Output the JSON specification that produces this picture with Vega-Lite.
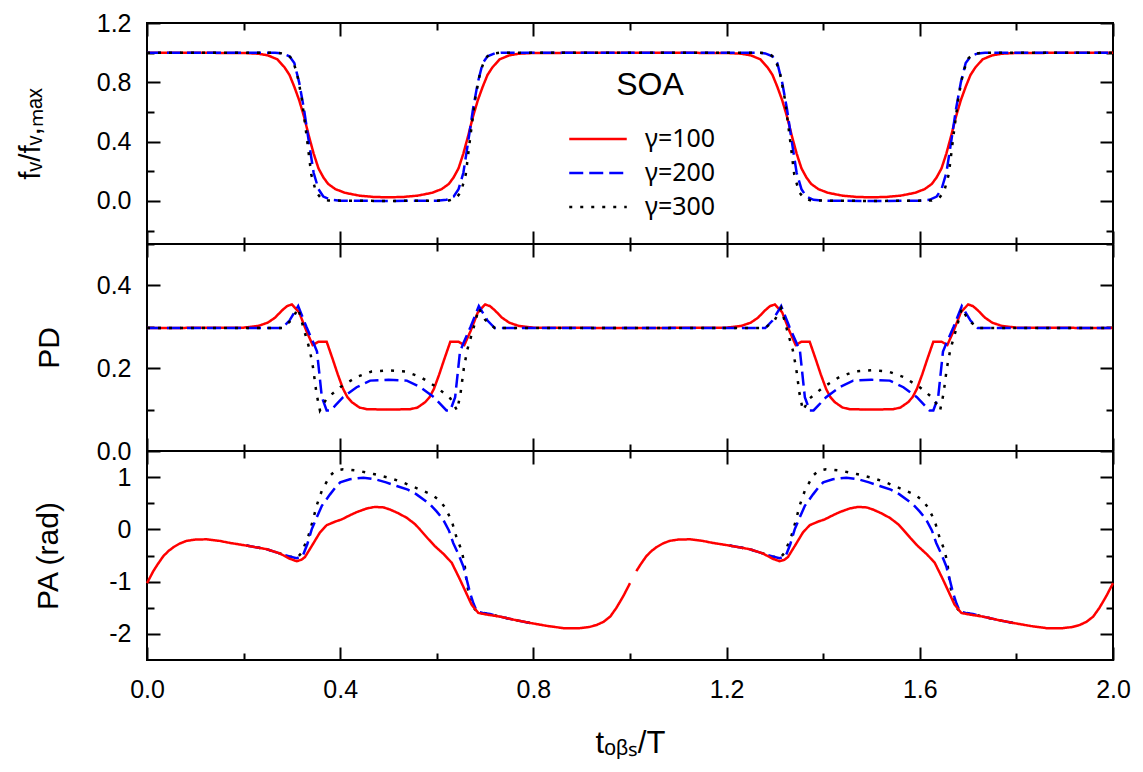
{
"$schema": "https://vega.github.io/schema/vega-lite/v6.json",
"padding": {"left": 14, "top": 10, "right": 30, "bottom": 5},
"background": "white",
"bounds": "flush",
"spacing": 0,
"config": {
  "view": {"stroke": "black", "strokeWidth": 2},
  "font": "Liberation Sans",
  "point": {"opacity": 0},
  "axis": {"labelFont": "Liberation Sans", "labelFontSize": 25, "labelColor": "black", "titleFont": "Liberation Sans", "titleFontSize": 30, "titleFontWeight": "normal", "titleColor": "black", "domain": false, "grid": false, "ticks": true, "tickColor": "black", "tickWidth": 2, "tickSize": -13, "labelFlush": false, "labelOverlap": false}
},
"resolve": {"scale": {"color": "independent", "strokeDash": "independent"}},
"datasets": {
"F": [
{"t":0,"v":1,"g":"γ=100"},{"t":0.2,"v":0.998,"g":"γ=100"},{"t":0.23,"v":0.993,"g":"γ=100"},{"t":0.25,"v":0.982,"g":"γ=100"},{"t":0.27,"v":0.955,"g":"γ=100"},{"t":0.285,"v":0.9,"g":"γ=100"},{"t":0.295,"v":0.85,"g":"γ=100"},{"t":0.305,"v":0.77,"g":"γ=100"},{"t":0.315,"v":0.68,"g":"γ=100"},{"t":0.325,"v":0.57,"g":"γ=100"},{"t":0.335,"v":0.44,"g":"γ=100"},{"t":0.345,"v":0.32,"g":"γ=100"},{"t":0.355,"v":0.22,"g":"γ=100"},{"t":0.365,"v":0.16,"g":"γ=100"},{"t":0.375,"v":0.115,"g":"γ=100"},{"t":0.39,"v":0.08,"g":"γ=100"},{"t":0.41,"v":0.055,"g":"γ=100"},{"t":0.44,"v":0.036,"g":"γ=100"},{"t":0.47,"v":0.027,"g":"γ=100"},{"t":0.5,"v":0.025,"g":"γ=100"},{"t":0.53,"v":0.027,"g":"γ=100"},{"t":0.56,"v":0.036,"g":"γ=100"},{"t":0.59,"v":0.055,"g":"γ=100"},{"t":0.61,"v":0.08,"g":"γ=100"},{"t":0.625,"v":0.115,"g":"γ=100"},{"t":0.635,"v":0.16,"g":"γ=100"},{"t":0.645,"v":0.22,"g":"γ=100"},{"t":0.655,"v":0.32,"g":"γ=100"},{"t":0.665,"v":0.44,"g":"γ=100"},{"t":0.675,"v":0.57,"g":"γ=100"},{"t":0.685,"v":0.68,"g":"γ=100"},{"t":0.695,"v":0.77,"g":"γ=100"},{"t":0.705,"v":0.85,"g":"γ=100"},{"t":0.715,"v":0.9,"g":"γ=100"},{"t":0.73,"v":0.955,"g":"γ=100"},{"t":0.75,"v":0.982,"g":"γ=100"},{"t":0.77,"v":0.993,"g":"γ=100"},{"t":0.8,"v":0.998,"g":"γ=100"},
{"t":1,"v":1,"g":"γ=100"},{"t":1.2,"v":0.998,"g":"γ=100"},{"t":1.23,"v":0.993,"g":"γ=100"},{"t":1.25,"v":0.982,"g":"γ=100"},{"t":1.27,"v":0.955,"g":"γ=100"},{"t":1.285,"v":0.9,"g":"γ=100"},{"t":1.295,"v":0.85,"g":"γ=100"},{"t":1.305,"v":0.77,"g":"γ=100"},{"t":1.315,"v":0.68,"g":"γ=100"},{"t":1.325,"v":0.57,"g":"γ=100"},{"t":1.335,"v":0.44,"g":"γ=100"},{"t":1.345,"v":0.32,"g":"γ=100"},{"t":1.355,"v":0.22,"g":"γ=100"},{"t":1.365,"v":0.16,"g":"γ=100"},{"t":1.375,"v":0.115,"g":"γ=100"},{"t":1.39,"v":0.08,"g":"γ=100"},{"t":1.41,"v":0.055,"g":"γ=100"},{"t":1.44,"v":0.036,"g":"γ=100"},{"t":1.47,"v":0.027,"g":"γ=100"},{"t":1.5,"v":0.025,"g":"γ=100"},{"t":1.53,"v":0.027,"g":"γ=100"},{"t":1.56,"v":0.036,"g":"γ=100"},{"t":1.59,"v":0.055,"g":"γ=100"},{"t":1.61,"v":0.08,"g":"γ=100"},{"t":1.625,"v":0.115,"g":"γ=100"},{"t":1.635,"v":0.16,"g":"γ=100"},{"t":1.645,"v":0.22,"g":"γ=100"},{"t":1.655,"v":0.32,"g":"γ=100"},{"t":1.665,"v":0.44,"g":"γ=100"},{"t":1.675,"v":0.57,"g":"γ=100"},{"t":1.685,"v":0.68,"g":"γ=100"},{"t":1.695,"v":0.77,"g":"γ=100"},{"t":1.705,"v":0.85,"g":"γ=100"},{"t":1.715,"v":0.9,"g":"γ=100"},{"t":1.73,"v":0.955,"g":"γ=100"},{"t":1.75,"v":0.982,"g":"γ=100"},{"t":1.77,"v":0.993,"g":"γ=100"},{"t":1.8,"v":0.998,"g":"γ=100"},{"t":2,"v":1,"g":"γ=100"},
{"t":0,"v":1,"g":"γ=200"},{"t":0.265,"v":1,"g":"γ=200"},{"t":0.28,"v":0.995,"g":"γ=200"},{"t":0.295,"v":0.975,"g":"γ=200"},{"t":0.305,"v":0.93,"g":"γ=200"},{"t":0.315,"v":0.8,"g":"γ=200"},{"t":0.325,"v":0.62,"g":"γ=200"},{"t":0.335,"v":0.4,"g":"γ=200"},{"t":0.345,"v":0.19,"g":"γ=200"},{"t":0.355,"v":0.08,"g":"γ=200"},{"t":0.365,"v":0.03,"g":"γ=200"},{"t":0.38,"v":0.008,"g":"γ=200"},{"t":0.4,"v":0.002,"g":"γ=200"},{"t":0.5,"v":0,"g":"γ=200"},{"t":0.6,"v":0.002,"g":"γ=200"},{"t":0.62,"v":0.008,"g":"γ=200"},{"t":0.635,"v":0.03,"g":"γ=200"},{"t":0.645,"v":0.08,"g":"γ=200"},{"t":0.655,"v":0.19,"g":"γ=200"},{"t":0.665,"v":0.4,"g":"γ=200"},{"t":0.675,"v":0.62,"g":"γ=200"},{"t":0.685,"v":0.8,"g":"γ=200"},{"t":0.695,"v":0.93,"g":"γ=200"},{"t":0.705,"v":0.975,"g":"γ=200"},{"t":0.72,"v":0.995,"g":"γ=200"},{"t":0.735,"v":1,"g":"γ=200"},
{"t":1,"v":1,"g":"γ=200"},{"t":1.265,"v":1,"g":"γ=200"},{"t":1.28,"v":0.995,"g":"γ=200"},{"t":1.295,"v":0.975,"g":"γ=200"},{"t":1.305,"v":0.93,"g":"γ=200"},{"t":1.315,"v":0.8,"g":"γ=200"},{"t":1.325,"v":0.62,"g":"γ=200"},{"t":1.335,"v":0.4,"g":"γ=200"},{"t":1.345,"v":0.19,"g":"γ=200"},{"t":1.355,"v":0.08,"g":"γ=200"},{"t":1.365,"v":0.03,"g":"γ=200"},{"t":1.38,"v":0.008,"g":"γ=200"},{"t":1.4,"v":0.002,"g":"γ=200"},{"t":1.5,"v":0,"g":"γ=200"},{"t":1.6,"v":0.002,"g":"γ=200"},{"t":1.62,"v":0.008,"g":"γ=200"},{"t":1.635,"v":0.03,"g":"γ=200"},{"t":1.645,"v":0.08,"g":"γ=200"},{"t":1.655,"v":0.19,"g":"γ=200"},{"t":1.665,"v":0.4,"g":"γ=200"},{"t":1.675,"v":0.62,"g":"γ=200"},{"t":1.685,"v":0.8,"g":"γ=200"},{"t":1.695,"v":0.93,"g":"γ=200"},{"t":1.705,"v":0.975,"g":"γ=200"},{"t":1.72,"v":0.995,"g":"γ=200"},{"t":1.735,"v":1,"g":"γ=200"},{"t":2,"v":1,"g":"γ=200"},
{"t":0,"v":1,"g":"γ=300"},{"t":0.27,"v":1,"g":"γ=300"},{"t":0.29,"v":0.99,"g":"γ=300"},{"t":0.3,"v":0.96,"g":"γ=300"},{"t":0.31,"v":0.87,"g":"γ=300"},{"t":0.32,"v":0.7,"g":"γ=300"},{"t":0.33,"v":0.45,"g":"γ=300"},{"t":0.34,"v":0.18,"g":"γ=300"},{"t":0.35,"v":0.06,"g":"γ=300"},{"t":0.36,"v":0.02,"g":"γ=300"},{"t":0.375,"v":0.003,"g":"γ=300"},{"t":0.5,"v":0,"g":"γ=300"},{"t":0.625,"v":0.003,"g":"γ=300"},{"t":0.64,"v":0.02,"g":"γ=300"},{"t":0.65,"v":0.06,"g":"γ=300"},{"t":0.66,"v":0.18,"g":"γ=300"},{"t":0.67,"v":0.45,"g":"γ=300"},{"t":0.68,"v":0.7,"g":"γ=300"},{"t":0.69,"v":0.87,"g":"γ=300"},{"t":0.7,"v":0.96,"g":"γ=300"},{"t":0.71,"v":0.99,"g":"γ=300"},{"t":0.73,"v":1,"g":"γ=300"},
{"t":1,"v":1,"g":"γ=300"},{"t":1.27,"v":1,"g":"γ=300"},{"t":1.29,"v":0.99,"g":"γ=300"},{"t":1.3,"v":0.96,"g":"γ=300"},{"t":1.31,"v":0.87,"g":"γ=300"},{"t":1.32,"v":0.7,"g":"γ=300"},{"t":1.33,"v":0.45,"g":"γ=300"},{"t":1.34,"v":0.18,"g":"γ=300"},{"t":1.35,"v":0.06,"g":"γ=300"},{"t":1.36,"v":0.02,"g":"γ=300"},{"t":1.375,"v":0.003,"g":"γ=300"},{"t":1.5,"v":0,"g":"γ=300"},{"t":1.625,"v":0.003,"g":"γ=300"},{"t":1.64,"v":0.02,"g":"γ=300"},{"t":1.65,"v":0.06,"g":"γ=300"},{"t":1.66,"v":0.18,"g":"γ=300"},{"t":1.67,"v":0.45,"g":"γ=300"},{"t":1.68,"v":0.7,"g":"γ=300"},{"t":1.69,"v":0.87,"g":"γ=300"},{"t":1.7,"v":0.96,"g":"γ=300"},{"t":1.71,"v":0.99,"g":"γ=300"},{"t":1.73,"v":1,"g":"γ=300"},{"t":2,"v":1,"g":"γ=300"}
],
"PD": [
{"t":0,"v":0.297,"g":"γ=100"},{"t":0.2,"v":0.298,"g":"γ=100"},{"t":0.23,"v":0.302,"g":"γ=100"},{"t":0.25,"v":0.31,"g":"γ=100"},{"t":0.265,"v":0.322,"g":"γ=100"},{"t":0.28,"v":0.34,"g":"γ=100"},{"t":0.29,"v":0.35,"g":"γ=100"},{"t":0.3,"v":0.354,"g":"γ=100"},{"t":0.315,"v":0.335,"g":"γ=100"},{"t":0.33,"v":0.29,"g":"γ=100"},{"t":0.343,"v":0.256,"g":"γ=100"},{"t":0.355,"v":0.264,"g":"γ=100"},{"t":0.372,"v":0.264,"g":"γ=100"},{"t":0.385,"v":0.22,"g":"γ=100"},{"t":0.395,"v":0.185,"g":"γ=100"},{"t":0.406,"v":0.15,"g":"γ=100"},{"t":0.415,"v":0.13,"g":"γ=100"},{"t":0.424,"v":0.118,"g":"γ=100"},{"t":0.44,"v":0.105,"g":"γ=100"},{"t":0.455,"v":0.101,"g":"γ=100"},{"t":0.5,"v":0.1,"g":"γ=100"},{"t":0.545,"v":0.101,"g":"γ=100"},{"t":0.56,"v":0.105,"g":"γ=100"},{"t":0.576,"v":0.118,"g":"γ=100"},{"t":0.585,"v":0.13,"g":"γ=100"},{"t":0.594,"v":0.15,"g":"γ=100"},{"t":0.605,"v":0.185,"g":"γ=100"},{"t":0.615,"v":0.22,"g":"γ=100"},{"t":0.628,"v":0.264,"g":"γ=100"},{"t":0.645,"v":0.264,"g":"γ=100"},{"t":0.657,"v":0.256,"g":"γ=100"},{"t":0.67,"v":0.29,"g":"γ=100"},{"t":0.685,"v":0.335,"g":"γ=100"},{"t":0.7,"v":0.354,"g":"γ=100"},{"t":0.71,"v":0.35,"g":"γ=100"},{"t":0.72,"v":0.34,"g":"γ=100"},{"t":0.735,"v":0.322,"g":"γ=100"},{"t":0.75,"v":0.31,"g":"γ=100"},{"t":0.77,"v":0.302,"g":"γ=100"},{"t":0.8,"v":0.298,"g":"γ=100"},
{"t":1,"v":0.297,"g":"γ=100"},{"t":1.2,"v":0.298,"g":"γ=100"},{"t":1.23,"v":0.302,"g":"γ=100"},{"t":1.25,"v":0.31,"g":"γ=100"},{"t":1.265,"v":0.322,"g":"γ=100"},{"t":1.28,"v":0.34,"g":"γ=100"},{"t":1.29,"v":0.35,"g":"γ=100"},{"t":1.3,"v":0.354,"g":"γ=100"},{"t":1.315,"v":0.335,"g":"γ=100"},{"t":1.33,"v":0.29,"g":"γ=100"},{"t":1.343,"v":0.256,"g":"γ=100"},{"t":1.355,"v":0.264,"g":"γ=100"},{"t":1.372,"v":0.264,"g":"γ=100"},{"t":1.385,"v":0.22,"g":"γ=100"},{"t":1.395,"v":0.185,"g":"γ=100"},{"t":1.406,"v":0.15,"g":"γ=100"},{"t":1.415,"v":0.13,"g":"γ=100"},{"t":1.424,"v":0.118,"g":"γ=100"},{"t":1.44,"v":0.105,"g":"γ=100"},{"t":1.455,"v":0.101,"g":"γ=100"},{"t":1.5,"v":0.1,"g":"γ=100"},{"t":1.545,"v":0.101,"g":"γ=100"},{"t":1.56,"v":0.105,"g":"γ=100"},{"t":1.576,"v":0.118,"g":"γ=100"},{"t":1.585,"v":0.13,"g":"γ=100"},{"t":1.594,"v":0.15,"g":"γ=100"},{"t":1.605,"v":0.185,"g":"γ=100"},{"t":1.615,"v":0.22,"g":"γ=100"},{"t":1.628,"v":0.264,"g":"γ=100"},{"t":1.645,"v":0.264,"g":"γ=100"},{"t":1.657,"v":0.256,"g":"γ=100"},{"t":1.67,"v":0.29,"g":"γ=100"},{"t":1.685,"v":0.335,"g":"γ=100"},{"t":1.7,"v":0.354,"g":"γ=100"},{"t":1.71,"v":0.35,"g":"γ=100"},{"t":1.72,"v":0.34,"g":"γ=100"},{"t":1.735,"v":0.322,"g":"γ=100"},{"t":1.75,"v":0.31,"g":"γ=100"},{"t":1.77,"v":0.302,"g":"γ=100"},{"t":1.8,"v":0.298,"g":"γ=100"},{"t":2,"v":0.297,"g":"γ=100"},
{"t":0,"v":0.297,"g":"γ=200"},{"t":0.28,"v":0.297,"g":"γ=200"},{"t":0.295,"v":0.315,"g":"γ=200"},{"t":0.313,"v":0.35,"g":"γ=200"},{"t":0.33,"v":0.3,"g":"γ=200"},{"t":0.345,"v":0.26,"g":"γ=200"},{"t":0.352,"v":0.24,"g":"γ=200"},{"t":0.362,"v":0.13,"g":"γ=200"},{"t":0.372,"v":0.098,"g":"γ=200"},{"t":0.38,"v":0.098,"g":"γ=200"},{"t":0.39,"v":0.11,"g":"γ=200"},{"t":0.406,"v":0.13,"g":"γ=200"},{"t":0.434,"v":0.154,"g":"γ=200"},{"t":0.462,"v":0.17,"g":"γ=200"},{"t":0.5,"v":0.172,"g":"γ=200"},{"t":0.538,"v":0.17,"g":"γ=200"},{"t":0.566,"v":0.154,"g":"γ=200"},{"t":0.594,"v":0.13,"g":"γ=200"},{"t":0.61,"v":0.11,"g":"γ=200"},{"t":0.62,"v":0.098,"g":"γ=200"},{"t":0.628,"v":0.098,"g":"γ=200"},{"t":0.638,"v":0.13,"g":"γ=200"},{"t":0.648,"v":0.24,"g":"γ=200"},{"t":0.655,"v":0.26,"g":"γ=200"},{"t":0.67,"v":0.3,"g":"γ=200"},{"t":0.687,"v":0.35,"g":"γ=200"},{"t":0.705,"v":0.315,"g":"γ=200"},{"t":0.72,"v":0.297,"g":"γ=200"},
{"t":1,"v":0.297,"g":"γ=200"},{"t":1.28,"v":0.297,"g":"γ=200"},{"t":1.295,"v":0.315,"g":"γ=200"},{"t":1.313,"v":0.35,"g":"γ=200"},{"t":1.33,"v":0.3,"g":"γ=200"},{"t":1.345,"v":0.26,"g":"γ=200"},{"t":1.352,"v":0.24,"g":"γ=200"},{"t":1.362,"v":0.13,"g":"γ=200"},{"t":1.372,"v":0.098,"g":"γ=200"},{"t":1.38,"v":0.098,"g":"γ=200"},{"t":1.39,"v":0.11,"g":"γ=200"},{"t":1.406,"v":0.13,"g":"γ=200"},{"t":1.434,"v":0.154,"g":"γ=200"},{"t":1.462,"v":0.17,"g":"γ=200"},{"t":1.5,"v":0.172,"g":"γ=200"},{"t":1.538,"v":0.17,"g":"γ=200"},{"t":1.566,"v":0.154,"g":"γ=200"},{"t":1.594,"v":0.13,"g":"γ=200"},{"t":1.61,"v":0.11,"g":"γ=200"},{"t":1.62,"v":0.098,"g":"γ=200"},{"t":1.628,"v":0.098,"g":"γ=200"},{"t":1.638,"v":0.13,"g":"γ=200"},{"t":1.648,"v":0.24,"g":"γ=200"},{"t":1.655,"v":0.26,"g":"γ=200"},{"t":1.67,"v":0.3,"g":"γ=200"},{"t":1.687,"v":0.35,"g":"γ=200"},{"t":1.705,"v":0.315,"g":"γ=200"},{"t":1.72,"v":0.297,"g":"γ=200"},{"t":2,"v":0.297,"g":"γ=200"},
{"t":0,"v":0.297,"g":"γ=300"},{"t":0.28,"v":0.297,"g":"γ=300"},{"t":0.3,"v":0.317,"g":"γ=300"},{"t":0.313,"v":0.345,"g":"γ=300"},{"t":0.324,"v":0.297,"g":"γ=300"},{"t":0.337,"v":0.244,"g":"γ=300"},{"t":0.344,"v":0.2,"g":"γ=300"},{"t":0.351,"v":0.138,"g":"γ=300"},{"t":0.358,"v":0.098,"g":"γ=300"},{"t":0.372,"v":0.127,"g":"γ=300"},{"t":0.4,"v":0.154,"g":"γ=300"},{"t":0.434,"v":0.179,"g":"γ=300"},{"t":0.465,"v":0.192,"g":"γ=300"},{"t":0.5,"v":0.195,"g":"γ=300"},{"t":0.535,"v":0.192,"g":"γ=300"},{"t":0.566,"v":0.179,"g":"γ=300"},{"t":0.6,"v":0.154,"g":"γ=300"},{"t":0.628,"v":0.127,"g":"γ=300"},{"t":0.642,"v":0.098,"g":"γ=300"},{"t":0.649,"v":0.138,"g":"γ=300"},{"t":0.656,"v":0.2,"g":"γ=300"},{"t":0.663,"v":0.244,"g":"γ=300"},{"t":0.676,"v":0.297,"g":"γ=300"},{"t":0.687,"v":0.345,"g":"γ=300"},{"t":0.7,"v":0.317,"g":"γ=300"},{"t":0.72,"v":0.297,"g":"γ=300"},
{"t":1,"v":0.297,"g":"γ=300"},{"t":1.28,"v":0.297,"g":"γ=300"},{"t":1.3,"v":0.317,"g":"γ=300"},{"t":1.313,"v":0.345,"g":"γ=300"},{"t":1.324,"v":0.297,"g":"γ=300"},{"t":1.337,"v":0.244,"g":"γ=300"},{"t":1.344,"v":0.2,"g":"γ=300"},{"t":1.351,"v":0.138,"g":"γ=300"},{"t":1.358,"v":0.098,"g":"γ=300"},{"t":1.372,"v":0.127,"g":"γ=300"},{"t":1.4,"v":0.154,"g":"γ=300"},{"t":1.434,"v":0.179,"g":"γ=300"},{"t":1.465,"v":0.192,"g":"γ=300"},{"t":1.5,"v":0.195,"g":"γ=300"},{"t":1.535,"v":0.192,"g":"γ=300"},{"t":1.566,"v":0.179,"g":"γ=300"},{"t":1.6,"v":0.154,"g":"γ=300"},{"t":1.628,"v":0.127,"g":"γ=300"},{"t":1.642,"v":0.098,"g":"γ=300"},{"t":1.649,"v":0.138,"g":"γ=300"},{"t":1.656,"v":0.2,"g":"γ=300"},{"t":1.663,"v":0.244,"g":"γ=300"},{"t":1.676,"v":0.297,"g":"γ=300"},{"t":1.687,"v":0.345,"g":"γ=300"},{"t":1.7,"v":0.317,"g":"γ=300"},{"t":1.72,"v":0.297,"g":"γ=300"},{"t":2,"v":0.297,"g":"γ=300"}
],
"PA": [
{"t":0.206,"v":-0.31,"g":"γ=300","p":1},{"t":0.248,"v":-0.38,"g":"γ=300","p":1},{"t":0.275,"v":-0.46,"g":"γ=300","p":1},{"t":0.295,"v":-0.52,"g":"γ=300","p":1},{"t":0.31,"v":-0.55,"g":"γ=300","p":1},{"t":0.32,"v":-0.45,"g":"γ=300","p":1},{"t":0.334,"v":-0.13,"g":"γ=300","p":1},{"t":0.344,"v":0.19,"g":"γ=300","p":1},{"t":0.351,"v":0.45,"g":"γ=300","p":1},{"t":0.362,"v":0.74,"g":"γ=300","p":1},{"t":0.379,"v":1.03,"g":"γ=300","p":1},{"t":0.39,"v":1.12,"g":"γ=300","p":1},{"t":0.406,"v":1.15,"g":"γ=300","p":1},{"t":0.42,"v":1.14,"g":"γ=300","p":1},{"t":0.438,"v":1.12,"g":"γ=300","p":1},{"t":0.469,"v":1.06,"g":"γ=300","p":1},{"t":0.5,"v":0.99,"g":"γ=300","p":1},{"t":0.527,"v":0.91,"g":"γ=300","p":1},{"t":0.558,"v":0.79,"g":"γ=300","p":1},{"t":0.589,"v":0.67,"g":"γ=300","p":1},{"t":0.605,"v":0.56,"g":"γ=300","p":1},{"t":0.617,"v":0.42,"g":"γ=300","p":1},{"t":0.631,"v":0.16,"g":"γ=300","p":1},{"t":0.641,"v":-0.16,"g":"γ=300","p":1},{"t":0.652,"v":-0.42,"g":"γ=300","p":1},{"t":0.658,"v":-0.71,"g":"γ=300","p":1},{"t":0.662,"v":-1.03,"g":"γ=300","p":1},{"t":0.669,"v":-1.35,"g":"γ=300","p":1},{"t":0.676,"v":-1.5,"g":"γ=300","p":1},{"t":0.683,"v":-1.57,"g":"γ=300","p":1},{"t":0.695,"v":-1.6,"g":"γ=300","p":1},{"t":0.71,"v":-1.62,"g":"γ=300","p":1},{"t":0.731,"v":-1.67,"g":"γ=300","p":1},{"t":0.76,"v":-1.73,"g":"γ=300","p":1},{"t":0.793,"v":-1.79,"g":"γ=300","p":1},
{"t":1.206,"v":-0.31,"g":"γ=300","p":2},{"t":1.248,"v":-0.38,"g":"γ=300","p":2},{"t":1.275,"v":-0.46,"g":"γ=300","p":2},{"t":1.295,"v":-0.52,"g":"γ=300","p":2},{"t":1.31,"v":-0.55,"g":"γ=300","p":2},{"t":1.32,"v":-0.45,"g":"γ=300","p":2},{"t":1.334,"v":-0.13,"g":"γ=300","p":2},{"t":1.344,"v":0.19,"g":"γ=300","p":2},{"t":1.351,"v":0.45,"g":"γ=300","p":2},{"t":1.362,"v":0.74,"g":"γ=300","p":2},{"t":1.379,"v":1.03,"g":"γ=300","p":2},{"t":1.39,"v":1.12,"g":"γ=300","p":2},{"t":1.406,"v":1.15,"g":"γ=300","p":2},{"t":1.42,"v":1.14,"g":"γ=300","p":2},{"t":1.438,"v":1.12,"g":"γ=300","p":2},{"t":1.469,"v":1.06,"g":"γ=300","p":2},{"t":1.5,"v":0.99,"g":"γ=300","p":2},{"t":1.527,"v":0.91,"g":"γ=300","p":2},{"t":1.558,"v":0.79,"g":"γ=300","p":2},{"t":1.589,"v":0.67,"g":"γ=300","p":2},{"t":1.605,"v":0.56,"g":"γ=300","p":2},{"t":1.617,"v":0.42,"g":"γ=300","p":2},{"t":1.631,"v":0.16,"g":"γ=300","p":2},{"t":1.641,"v":-0.16,"g":"γ=300","p":2},{"t":1.652,"v":-0.42,"g":"γ=300","p":2},{"t":1.658,"v":-0.71,"g":"γ=300","p":2},{"t":1.662,"v":-1.03,"g":"γ=300","p":2},{"t":1.669,"v":-1.35,"g":"γ=300","p":2},{"t":1.676,"v":-1.5,"g":"γ=300","p":2},{"t":1.683,"v":-1.57,"g":"γ=300","p":2},{"t":1.695,"v":-1.6,"g":"γ=300","p":2},{"t":1.71,"v":-1.62,"g":"γ=300","p":2},{"t":1.731,"v":-1.67,"g":"γ=300","p":2},{"t":1.76,"v":-1.73,"g":"γ=300","p":2},{"t":1.793,"v":-1.79,"g":"γ=300","p":2},
{"t":0.206,"v":-0.31,"g":"γ=200","p":1},{"t":0.248,"v":-0.38,"g":"γ=200","p":1},{"t":0.275,"v":-0.46,"g":"γ=200","p":1},{"t":0.295,"v":-0.52,"g":"γ=200","p":1},{"t":0.31,"v":-0.55,"g":"γ=200","p":1},{"t":0.322,"v":-0.52,"g":"γ=200","p":1},{"t":0.332,"v":-0.28,"g":"γ=200","p":1},{"t":0.341,"v":0,"g":"γ=200","p":1},{"t":0.352,"v":0.24,"g":"γ=200","p":1},{"t":0.362,"v":0.45,"g":"γ=200","p":1},{"t":0.379,"v":0.67,"g":"γ=200","p":1},{"t":0.39,"v":0.8,"g":"γ=200","p":1},{"t":0.4,"v":0.9,"g":"γ=200","p":1},{"t":0.42,"v":0.96,"g":"γ=200","p":1},{"t":0.448,"v":0.99,"g":"γ=200","p":1},{"t":0.472,"v":0.96,"g":"γ=200","p":1},{"t":0.495,"v":0.9,"g":"γ=200","p":1},{"t":0.517,"v":0.83,"g":"γ=200","p":1},{"t":0.54,"v":0.76,"g":"γ=200","p":1},{"t":0.558,"v":0.67,"g":"γ=200","p":1},{"t":0.586,"v":0.48,"g":"γ=200","p":1},{"t":0.6,"v":0.34,"g":"γ=200","p":1},{"t":0.613,"v":0.19,"g":"γ=200","p":1},{"t":0.625,"v":-0.02,"g":"γ=200","p":1},{"t":0.634,"v":-0.26,"g":"γ=200","p":1},{"t":0.645,"v":-0.48,"g":"γ=200","p":1},{"t":0.655,"v":-0.71,"g":"γ=200","p":1},{"t":0.663,"v":-1,"g":"γ=200","p":1},{"t":0.669,"v":-1.22,"g":"γ=200","p":1},{"t":0.676,"v":-1.42,"g":"γ=200","p":1},{"t":0.683,"v":-1.57,"g":"γ=200","p":1},{"t":0.695,"v":-1.6,"g":"γ=200","p":1},{"t":0.71,"v":-1.62,"g":"γ=200","p":1},{"t":0.731,"v":-1.67,"g":"γ=200","p":1},{"t":0.76,"v":-1.73,"g":"γ=200","p":1},{"t":0.793,"v":-1.79,"g":"γ=200","p":1},
{"t":1.206,"v":-0.31,"g":"γ=200","p":2},{"t":1.248,"v":-0.38,"g":"γ=200","p":2},{"t":1.275,"v":-0.46,"g":"γ=200","p":2},{"t":1.295,"v":-0.52,"g":"γ=200","p":2},{"t":1.31,"v":-0.55,"g":"γ=200","p":2},{"t":1.322,"v":-0.52,"g":"γ=200","p":2},{"t":1.332,"v":-0.28,"g":"γ=200","p":2},{"t":1.341,"v":0,"g":"γ=200","p":2},{"t":1.352,"v":0.24,"g":"γ=200","p":2},{"t":1.362,"v":0.45,"g":"γ=200","p":2},{"t":1.379,"v":0.67,"g":"γ=200","p":2},{"t":1.39,"v":0.8,"g":"γ=200","p":2},{"t":1.4,"v":0.9,"g":"γ=200","p":2},{"t":1.42,"v":0.96,"g":"γ=200","p":2},{"t":1.448,"v":0.99,"g":"γ=200","p":2},{"t":1.472,"v":0.96,"g":"γ=200","p":2},{"t":1.495,"v":0.9,"g":"γ=200","p":2},{"t":1.517,"v":0.83,"g":"γ=200","p":2},{"t":1.54,"v":0.76,"g":"γ=200","p":2},{"t":1.558,"v":0.67,"g":"γ=200","p":2},{"t":1.586,"v":0.48,"g":"γ=200","p":2},{"t":1.6,"v":0.34,"g":"γ=200","p":2},{"t":1.613,"v":0.19,"g":"γ=200","p":2},{"t":1.625,"v":-0.02,"g":"γ=200","p":2},{"t":1.634,"v":-0.26,"g":"γ=200","p":2},{"t":1.645,"v":-0.48,"g":"γ=200","p":2},{"t":1.655,"v":-0.71,"g":"γ=200","p":2},{"t":1.663,"v":-1,"g":"γ=200","p":2},{"t":1.669,"v":-1.22,"g":"γ=200","p":2},{"t":1.676,"v":-1.42,"g":"γ=200","p":2},{"t":1.683,"v":-1.57,"g":"γ=200","p":2},{"t":1.695,"v":-1.6,"g":"γ=200","p":2},{"t":1.71,"v":-1.62,"g":"γ=200","p":2},{"t":1.731,"v":-1.67,"g":"γ=200","p":2},{"t":1.76,"v":-1.73,"g":"γ=200","p":2},{"t":1.793,"v":-1.79,"g":"γ=200","p":2},
{"t":0,"v":-1.03,"g":"γ=100","p":1},{"t":0.013,"v":-0.8,"g":"γ=100","p":1},{"t":0.022,"v":-0.67,"g":"γ=100","p":1},{"t":0.034,"v":-0.51,"g":"γ=100","p":1},{"t":0.045,"v":-0.41,"g":"γ=100","p":1},{"t":0.055,"v":-0.34,"g":"γ=100","p":1},{"t":0.068,"v":-0.27,"g":"γ=100","p":1},{"t":0.082,"v":-0.22,"g":"γ=100","p":1},{"t":0.1,"v":-0.195,"g":"γ=100","p":1},{"t":0.124,"v":-0.19,"g":"γ=100","p":1},{"t":0.15,"v":-0.22,"g":"γ=100","p":1},{"t":0.172,"v":-0.26,"g":"γ=100","p":1},{"t":0.206,"v":-0.31,"g":"γ=100","p":1},{"t":0.248,"v":-0.38,"g":"γ=100","p":1},{"t":0.275,"v":-0.46,"g":"γ=100","p":1},{"t":0.295,"v":-0.56,"g":"γ=100","p":1},{"t":0.31,"v":-0.61,"g":"γ=100","p":1},{"t":0.32,"v":-0.58,"g":"γ=100","p":1},{"t":0.327,"v":-0.53,"g":"γ=100","p":1},{"t":0.341,"v":-0.32,"g":"γ=100","p":1},{"t":0.358,"v":-0.06,"g":"γ=100","p":1},{"t":0.372,"v":0.08,"g":"γ=100","p":1},{"t":0.39,"v":0.15,"g":"γ=100","p":1},{"t":0.403,"v":0.19,"g":"γ=100","p":1},{"t":0.42,"v":0.27,"g":"γ=100","p":1},{"t":0.434,"v":0.33,"g":"γ=100","p":1},{"t":0.455,"v":0.4,"g":"γ=100","p":1},{"t":0.472,"v":0.43,"g":"γ=100","p":1},{"t":0.49,"v":0.42,"g":"γ=100","p":1},{"t":0.503,"v":0.38,"g":"γ=100","p":1},{"t":0.52,"v":0.31,"g":"γ=100","p":1},{"t":0.538,"v":0.22,"g":"γ=100","p":1},{"t":0.555,"v":0.1,"g":"γ=100","p":1},{"t":0.565,"v":0,"g":"γ=100","p":1},{"t":0.58,"v":-0.16,"g":"γ=100","p":1},{"t":0.596,"v":-0.32,"g":"γ=100","p":1},{"t":0.615,"v":-0.48,"g":"γ=100","p":1},{"t":0.631,"v":-0.64,"g":"γ=100","p":1},{"t":0.648,"v":-0.96,"g":"γ=100","p":1},{"t":0.66,"v":-1.2,"g":"γ=100","p":1},{"t":0.672,"v":-1.44,"g":"γ=100","p":1},{"t":0.686,"v":-1.6,"g":"γ=100","p":1},{"t":0.703,"v":-1.63,"g":"γ=100","p":1},{"t":0.731,"v":-1.67,"g":"γ=100","p":1},{"t":0.76,"v":-1.73,"g":"γ=100","p":1},{"t":0.793,"v":-1.79,"g":"γ=100","p":1},{"t":0.83,"v":-1.85,"g":"γ=100","p":1},{"t":0.862,"v":-1.89,"g":"γ=100","p":1},{"t":0.896,"v":-1.89,"g":"γ=100","p":1},{"t":0.915,"v":-1.87,"g":"γ=100","p":1},{"t":0.931,"v":-1.83,"g":"γ=100","p":1},{"t":0.945,"v":-1.77,"g":"γ=100","p":1},{"t":0.959,"v":-1.67,"g":"γ=100","p":1},{"t":0.972,"v":-1.5,"g":"γ=100","p":1},{"t":0.986,"v":-1.28,"g":"γ=100","p":1},{"t":1,"v":-1.03,"g":"γ=100","p":1},
{"t":1.013,"v":-0.8,"g":"γ=100","p":2},{"t":1.022,"v":-0.67,"g":"γ=100","p":2},{"t":1.034,"v":-0.51,"g":"γ=100","p":2},{"t":1.045,"v":-0.41,"g":"γ=100","p":2},{"t":1.055,"v":-0.34,"g":"γ=100","p":2},{"t":1.068,"v":-0.27,"g":"γ=100","p":2},{"t":1.082,"v":-0.22,"g":"γ=100","p":2},{"t":1.1,"v":-0.195,"g":"γ=100","p":2},{"t":1.124,"v":-0.19,"g":"γ=100","p":2},{"t":1.15,"v":-0.22,"g":"γ=100","p":2},{"t":1.172,"v":-0.26,"g":"γ=100","p":2},{"t":1.206,"v":-0.31,"g":"γ=100","p":2},{"t":1.248,"v":-0.38,"g":"γ=100","p":2},{"t":1.275,"v":-0.46,"g":"γ=100","p":2},{"t":1.295,"v":-0.56,"g":"γ=100","p":2},{"t":1.31,"v":-0.61,"g":"γ=100","p":2},{"t":1.32,"v":-0.58,"g":"γ=100","p":2},{"t":1.327,"v":-0.53,"g":"γ=100","p":2},{"t":1.341,"v":-0.32,"g":"γ=100","p":2},{"t":1.358,"v":-0.06,"g":"γ=100","p":2},{"t":1.372,"v":0.08,"g":"γ=100","p":2},{"t":1.39,"v":0.15,"g":"γ=100","p":2},{"t":1.403,"v":0.19,"g":"γ=100","p":2},{"t":1.42,"v":0.27,"g":"γ=100","p":2},{"t":1.434,"v":0.33,"g":"γ=100","p":2},{"t":1.455,"v":0.4,"g":"γ=100","p":2},{"t":1.472,"v":0.43,"g":"γ=100","p":2},{"t":1.49,"v":0.42,"g":"γ=100","p":2},{"t":1.503,"v":0.38,"g":"γ=100","p":2},{"t":1.52,"v":0.31,"g":"γ=100","p":2},{"t":1.538,"v":0.22,"g":"γ=100","p":2},{"t":1.555,"v":0.1,"g":"γ=100","p":2},{"t":1.565,"v":0,"g":"γ=100","p":2},{"t":1.58,"v":-0.16,"g":"γ=100","p":2},{"t":1.596,"v":-0.32,"g":"γ=100","p":2},{"t":1.615,"v":-0.48,"g":"γ=100","p":2},{"t":1.631,"v":-0.64,"g":"γ=100","p":2},{"t":1.648,"v":-0.96,"g":"γ=100","p":2},{"t":1.66,"v":-1.2,"g":"γ=100","p":2},{"t":1.672,"v":-1.44,"g":"γ=100","p":2},{"t":1.686,"v":-1.6,"g":"γ=100","p":2},{"t":1.703,"v":-1.63,"g":"γ=100","p":2},{"t":1.731,"v":-1.67,"g":"γ=100","p":2},{"t":1.76,"v":-1.73,"g":"γ=100","p":2},{"t":1.793,"v":-1.79,"g":"γ=100","p":2},{"t":1.83,"v":-1.85,"g":"γ=100","p":2},{"t":1.862,"v":-1.89,"g":"γ=100","p":2},{"t":1.896,"v":-1.89,"g":"γ=100","p":2},{"t":1.915,"v":-1.87,"g":"γ=100","p":2},{"t":1.931,"v":-1.83,"g":"γ=100","p":2},{"t":1.945,"v":-1.77,"g":"γ=100","p":2},{"t":1.959,"v":-1.67,"g":"γ=100","p":2},{"t":1.972,"v":-1.5,"g":"γ=100","p":2},{"t":1.986,"v":-1.28,"g":"γ=100","p":2},{"t":2,"v":-1.03,"g":"γ=100","p":2}
]
},
"vconcat": [
{
  "width": 966, "height": 221,
  "data": {"name": "F"},
  "layer": [
    {"mark": {"type": "line", "strokeWidth": 2.5},
     "encoding": {
       "x": {"field": "t", "type": "quantitative", "scale": {"domain": [0, 2], "nice": false, "zero": false},
             "axis": {"orient": "bottom", "values": [0,0.4,0.8,1.2,1.6,2], "labels": false, "title": null}},
       "y": {"field": "v", "type": "quantitative", "scale": {"domain": [-0.29, 1.2], "nice": false, "zero": false},
             "axis": {"orient": "left", "values": [0,0.4,0.8,1.2], "format": ".1f", "labelPadding": 29,
                      "title": "fᵥ/fᵥ,ₘₐₓ", "titleX": -108, "titleBaseline": "alphabetic"}},
       "color": {"field": "g", "type": "nominal", "scale": {"domain": ["γ=100","γ=200","γ=300"], "range": ["#ff0000","#0000ff","#000000"]},
                 "legend": {"orient": "none", "legendX": 438, "legendY": 47, "title": "SOA", "titleFontSize": 32, "titleFont": "Liberation Sans", "titleFontWeight": "normal", "titleColor": "black", "titleAnchor": "middle", "titlePadding": 24, "labelFontSize": 25, "labelFont": "Noto Sans", "labelColor": "black", "symbolType": "M-2.5,0H2.5", "symbolSize": 529, "symbolStrokeWidth": 2.5, "labelOffset": 34, "rowPadding": 8}},
       "strokeDash": {"field": "g", "type": "nominal", "scale": {"domain": ["γ=100","γ=200","γ=300"], "range": [[1,0],[14,6],[3,8]]},
                 "legend": {"orient": "none", "legendX": 438, "legendY": 47, "title": "SOA", "titleFontSize": 32, "titleFont": "Liberation Sans", "titleFontWeight": "normal", "titleColor": "black", "titleAnchor": "middle", "titlePadding": 24, "labelFontSize": 25, "labelFont": "Noto Sans", "labelColor": "black", "symbolType": "M-2.5,0H2.5", "symbolSize": 529, "symbolStrokeWidth": 2.5, "labelOffset": 34, "rowPadding": 8}}
     }},
    {"mark": {"type": "point", "opacity": 0},
     "encoding": {
       "x": {"field": "t", "type": "quantitative", "scale": {"domain": [0, 2], "nice": false, "zero": false},
             "axis": {"orient": "top", "values": [0,0.4,0.8,1.2,1.6,2], "labels": false, "title": null}},
       "y": {"field": "v", "type": "quantitative", "scale": {"domain": [-0.29, 1.2], "nice": false, "zero": false},
             "axis": {"orient": "right", "values": [0,0.4,0.8,1.2], "labels": false, "title": null}}
     }},
    {"mark": {"type": "point", "opacity": 0},
     "encoding": {
       "x": {"field": "t", "type": "quantitative", "scale": {"domain": [0, 2], "nice": false, "zero": false},
             "axis": {"orient": "bottom", "values": [0.2,0.6,1,1.4,1.8], "tickSize": -7, "labels": false, "title": null}},
       "y": {"field": "v", "type": "quantitative", "scale": {"domain": [-0.29, 1.2], "nice": false, "zero": false},
             "axis": {"orient": "left", "values": [-0.2,0.2,0.6,1], "tickSize": -7, "labels": false, "title": null}}
     }},
    {"mark": {"type": "point", "opacity": 0},
     "encoding": {
       "x": {"field": "t", "type": "quantitative", "scale": {"domain": [0, 2], "nice": false, "zero": false},
             "axis": {"orient": "top", "values": [0.2,0.6,1,1.4,1.8], "tickSize": -7, "labels": false, "title": null}},
       "y": {"field": "v", "type": "quantitative", "scale": {"domain": [-0.29, 1.2], "nice": false, "zero": false},
             "axis": {"orient": "right", "values": [-0.2,0.2,0.6,1], "tickSize": -7, "labels": false, "title": null}}
     }}
  ],
  "resolve": {"axis": {"x": "independent", "y": "independent"}}
},
{
  "width": 966, "height": 207,
  "data": {"name": "PD"},
  "layer": [
    {"mark": {"type": "line", "strokeWidth": 2.5},
     "encoding": {
       "x": {"field": "t", "type": "quantitative", "scale": {"domain": [0, 2], "nice": false, "zero": false},
             "axis": {"orient": "bottom", "values": [0,0.4,0.8,1.2,1.6,2], "labels": false, "title": null}},
       "y": {"field": "v", "type": "quantitative", "scale": {"domain": [0, 0.5], "nice": false, "zero": false},
             "axis": {"orient": "left", "values": [0,0.2,0.4], "format": ".1f", "labelPadding": 29,
                      "title": "PD", "titleX": -89, "titleBaseline": "alphabetic"}},
       "color": {"field": "g", "type": "nominal", "scale": {"domain": ["γ=100","γ=200","γ=300"], "range": ["#ff0000","#0000ff","#000000"]}, "legend": null},
       "strokeDash": {"field": "g", "type": "nominal", "scale": {"domain": ["γ=100","γ=200","γ=300"], "range": [[1,0],[14,6],[3,8]]}, "legend": null}
     }},
    {"mark": {"type": "point", "opacity": 0},
     "encoding": {
       "x": {"field": "t", "type": "quantitative", "scale": {"domain": [0, 2], "nice": false, "zero": false},
             "axis": {"orient": "top", "values": [0,0.4,0.8,1.2,1.6,2], "labels": false, "title": null}},
       "y": {"field": "v", "type": "quantitative", "scale": {"domain": [0, 0.5], "nice": false, "zero": false},
             "axis": {"orient": "right", "values": [0,0.2,0.4], "labels": false, "title": null}}
     }},
    {"mark": {"type": "point", "opacity": 0},
     "encoding": {
       "x": {"field": "t", "type": "quantitative", "scale": {"domain": [0, 2], "nice": false, "zero": false},
             "axis": {"orient": "bottom", "values": [0.2,0.6,1,1.4,1.8], "tickSize": -7, "labels": false, "title": null}},
       "y": {"field": "v", "type": "quantitative", "scale": {"domain": [0, 0.5], "nice": false, "zero": false},
             "axis": {"orient": "left", "values": [0.1,0.3,0.5], "tickSize": -7, "labels": false, "title": null}}
     }},
    {"mark": {"type": "point", "opacity": 0},
     "encoding": {
       "x": {"field": "t", "type": "quantitative", "scale": {"domain": [0, 2], "nice": false, "zero": false},
             "axis": {"orient": "top", "values": [0.2,0.6,1,1.4,1.8], "tickSize": -7, "labels": false, "title": null}},
       "y": {"field": "v", "type": "quantitative", "scale": {"domain": [0, 0.5], "nice": false, "zero": false},
             "axis": {"orient": "right", "values": [0.1,0.3,0.5], "tickSize": -7, "labels": false, "title": null}}
     }}
  ],
  "resolve": {"axis": {"x": "independent", "y": "independent"}}
},
{
  "width": 966, "height": 209,
  "data": {"name": "PA"},
  "layer": [
    {"mark": {"type": "line", "strokeWidth": 2.5},
     "encoding": {
       "x": {"field": "t", "type": "quantitative", "scale": {"domain": [0, 2], "nice": false, "zero": false},
             "axis": {"orient": "bottom", "values": [0,0.4,0.8,1.2,1.6,2], "format": ".1f", "labelPadding": 30,
                      "title": "tₒᵦₛ/T", "titleFontSize": 31, "titleY": 92, "titleBaseline": "alphabetic"}},
       "y": {"field": "v", "type": "quantitative", "scale": {"domain": [-2.5, 1.5], "nice": false, "zero": false},
             "axis": {"orient": "left", "values": [-2,-1,0,1], "labelExpr": "'' + datum.value", "labelPadding": 29,
                      "title": "PA (rad)", "titleX": -90, "titleBaseline": "alphabetic"}},
       "color": {"field": "g", "type": "nominal", "scale": {"domain": ["γ=100","γ=200","γ=300"], "range": ["#ff0000","#0000ff","#000000"]}, "legend": null},
       "strokeDash": {"field": "g", "type": "nominal", "scale": {"domain": ["γ=100","γ=200","γ=300"], "range": [[1,0],[14,6],[3,8]]}, "legend": null},
       "detail": {"field": "p", "type": "nominal"}
     }},
    {"mark": {"type": "point", "opacity": 0},
     "encoding": {
       "x": {"field": "t", "type": "quantitative", "scale": {"domain": [0, 2], "nice": false, "zero": false},
             "axis": {"orient": "top", "values": [0,0.4,0.8,1.2,1.6,2], "labels": false, "title": null}},
       "y": {"field": "v", "type": "quantitative", "scale": {"domain": [-2.5, 1.5], "nice": false, "zero": false},
             "axis": {"orient": "right", "values": [-2,-1,0,1], "labels": false, "title": null}}
     }},
    {"mark": {"type": "point", "opacity": 0},
     "encoding": {
       "x": {"field": "t", "type": "quantitative", "scale": {"domain": [0, 2], "nice": false, "zero": false},
             "axis": {"orient": "bottom", "values": [0.2,0.6,1,1.4,1.8], "tickSize": -7, "labels": false, "title": null}},
       "y": {"field": "v", "type": "quantitative", "scale": {"domain": [-2.5, 1.5], "nice": false, "zero": false},
             "axis": {"orient": "left", "values": [-1.5,-0.5,0.5], "tickSize": -7, "labels": false, "title": null}}
     }},
    {"mark": {"type": "point", "opacity": 0},
     "encoding": {
       "x": {"field": "t", "type": "quantitative", "scale": {"domain": [0, 2], "nice": false, "zero": false},
             "axis": {"orient": "top", "values": [0.2,0.6,1,1.4,1.8], "tickSize": -7, "labels": false, "title": null}},
       "y": {"field": "v", "type": "quantitative", "scale": {"domain": [-2.5, 1.5], "nice": false, "zero": false},
             "axis": {"orient": "right", "values": [-1.5,-0.5,0.5], "tickSize": -7, "labels": false, "title": null}}
     }}
  ],
  "resolve": {"axis": {"x": "independent", "y": "independent"}}
}
]
}
